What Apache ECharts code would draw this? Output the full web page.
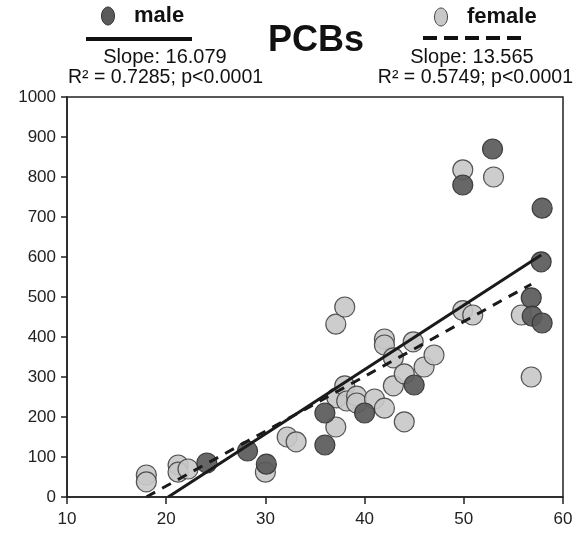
<!DOCTYPE html>
<html>
<head>
<meta charset="utf-8">
<script src="https://cdn.jsdelivr.net/npm/echarts@6/dist/echarts.min.js"></script>
<style>
html,body{margin:0;padding:0;background:#fff;}
#main{width:577px;height:534px;}
</style>
</head>
<body>
<div id="main"></div>
<script>
var chart = echarts.init(document.getElementById('main'));

// age (x) and PCBs (y)
var malePts = [
  [24.1, 85], [28.2, 115], [30.1, 82], [36, 210], [36, 130], [40, 210],
  [45, 280], [49.9, 780], [52.9, 870], [57.9, 722], [57.8, 588],
  [56.8, 498], [56.9, 452], [57.9, 435]
];
var femalePts = [
  [18, 55], [18, 38], [21.2, 80], [21.2, 62], [22.2, 70], [30, 62],
  [32.2, 150], [33.1, 138], [37.1, 175], [37.1, 432], [38, 475],
  [37.2, 248], [38, 278], [38.2, 240], [39.2, 252], [39.2, 235],
  [41, 245], [42, 222], [44, 188], [42, 395], [42, 380], [44.9, 388],
  [42.9, 348], [42.9, 278], [44, 308], [46, 325], [47, 355],
  [49.9, 818], [49.9, 466], [50.9, 455], [53, 800], [55.8, 455], [56.8, 300]
];
// fitted lines, end points
var maleFit = [[20.2, 0], [57.8, 605]];
var femaleFit = [[18, 0], [56.8, 532]];

var xTicks = [10, 20, 30, 40, 50, 60];
var font = 'Liberation Sans, Arial, sans-serif';

var option = {
  animation: false,
  backgroundColor: '#fff',
  grid: {left: 67, right: 14, top: 97, bottom: 37},
  xAxis: {
    type: 'value', min: 10, max: 60, interval: 10,
    axisLine: {show: true, lineStyle: {color: '#222', width: 1.5}},
    axisTick: {show: true, length: 7, lineStyle: {color: '#222', width: 1.5}},
    axisLabel: {color: '#222', fontSize: 17, fontFamily: font, margin: 14,
      formatter: function (v) { return xTicks.indexOf(v) >= 0 ? v : ''; }},
    splitLine: {show: false}
  },
  yAxis: {
    type: 'value', min: 0, max: 1000, interval: 100,
    axisLine: {show: true, lineStyle: {color: '#222', width: 1.5}},
    axisTick: {show: true, length: 6, lineStyle: {color: '#222', width: 1.5}},
    axisLabel: {color: '#222', fontSize: 17, fontFamily: font, margin: 11,
      formatter: function (v) { return String(v); }},
    splitLine: {show: false}
  },
  graphic: [
    {type: 'rect', shape: {x: 67, y: 97, width: 496, height: 400},
      style: {fill: 'none', stroke: '#222', lineWidth: 1.5}, silent: true, z: 100},
    {type: 'text', style: {text: 'PCBs', x: 316, y: 41, fill: '#111',
      font: 'bold 36px ' + font, textAlign: 'center', textVerticalAlign: 'middle'}},
    {type: 'ellipse', shape: {cx: 108, cy: 16, rx: 6.5, ry: 9},
      style: {fill: '#5a5a5a', stroke: '#333', lineWidth: 1}},
    {type: 'text', style: {text: 'male', x: 134, y: 16, fill: '#111',
      font: 'bold 22px ' + font, textVerticalAlign: 'middle'}},
    {type: 'line', shape: {x1: 86, y1: 39, x2: 192, y2: 39},
      style: {stroke: '#111', lineWidth: 4}},
    {type: 'text', style: {text: 'Slope: 16.079', x: 165, y: 57, fill: '#111',
      font: '20px ' + font, textAlign: 'center', textVerticalAlign: 'middle'}},
    {type: 'text', style: {text: 'R² = 0.7285; p<0.0001', x: 68, y: 78, fill: '#111',
      font: '19.5px ' + font, textVerticalAlign: 'middle'}},
    {type: 'ellipse', shape: {cx: 441, cy: 17, rx: 6.5, ry: 9},
      style: {fill: '#c8c8c8', stroke: '#444', lineWidth: 1}},
    {type: 'text', style: {text: 'female', x: 467, y: 17, fill: '#111',
      font: 'bold 22px ' + font, textVerticalAlign: 'middle'}},
    {type: 'line', shape: {x1: 423, y1: 38, x2: 523, y2: 38},
      style: {stroke: '#111', lineWidth: 4, lineDash: [14, 7]}},
    {type: 'text', style: {text: 'Slope: 13.565', x: 472, y: 57, fill: '#111',
      font: '20px ' + font, textAlign: 'center', textVerticalAlign: 'middle'}},
    {type: 'text', style: {text: 'R² = 0.5749; p<0.0001', x: 573, y: 78, fill: '#111',
      font: '19.5px ' + font, textAlign: 'right', textVerticalAlign: 'middle'}}
  ],
  series: [
    {
      name: 'female', type: 'scatter', data: femalePts, symbolSize: 20, z: 2,
      itemStyle: {color: '#c8c8c8', borderColor: '#444', borderWidth: 1.2, opacity: 0.9}
    },
    {
      name: 'male', type: 'scatter', data: malePts, symbolSize: 20, z: 3,
      itemStyle: {color: '#5a5a5a', borderColor: '#333', borderWidth: 1.2, opacity: 0.92}
    },
    {
      name: 'female fit', type: 'line', data: femaleFit, symbol: 'none', z: 4,
      lineStyle: {color: '#1a1a1a', width: 3, type: [10, 8]}
    },
    {
      name: 'male fit', type: 'line', data: maleFit, symbol: 'none', z: 4,
      lineStyle: {color: '#1a1a1a', width: 3}
    }
  ]
};
chart.setOption(option);
</script>
</body>
</html>
